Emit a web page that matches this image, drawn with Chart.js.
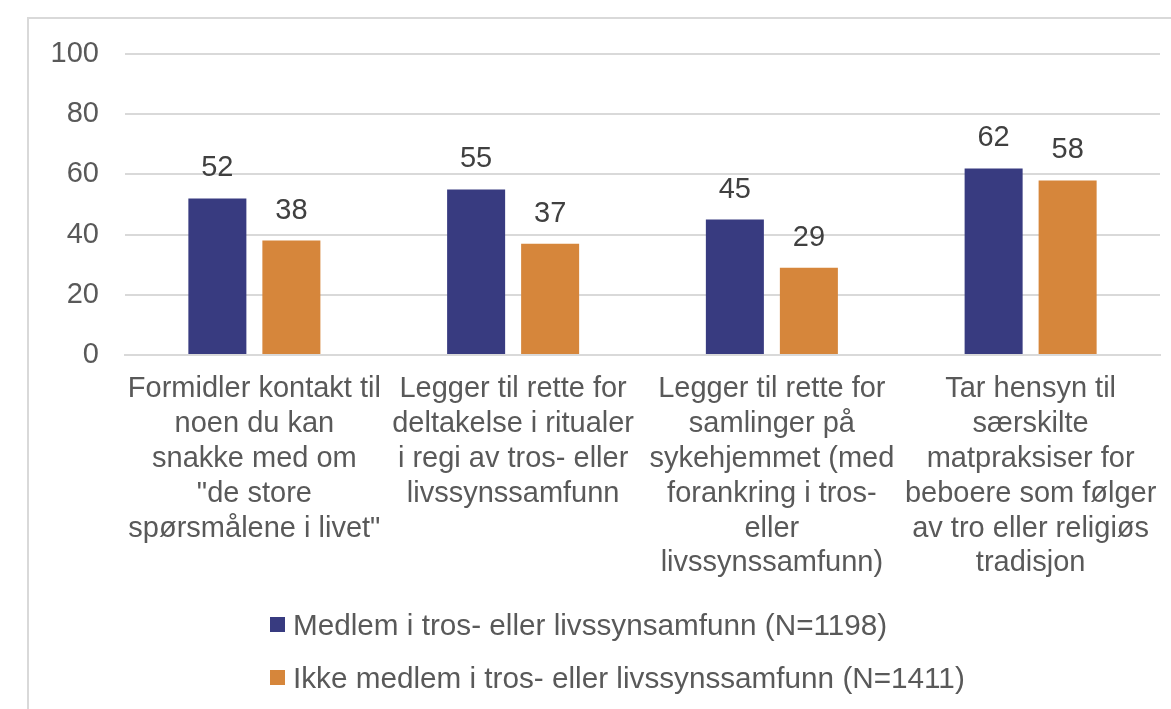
<!DOCTYPE html>
<html lang="no">
<head>
<meta charset="utf-8">
<title>Tilrettelegging for tro og livssyn</title>
<script src="https://cdn.jsdelivr.net/npm/chart.js@4.4.1/dist/chart.umd.min.js"></script>
<style>
  html, body { margin: 0; padding: 0; background: #fff; }
  #wrap { position: relative; width: 1171px; height: 709px; overflow: hidden; }
  #frame {
    position: absolute; left: 27px; top: 17px; width: 1200px; height: 800px;
    border-left: 2px solid #d9d9d9; border-top: 2px solid #d9d9d9;
  }
  #chart { position: absolute; left: 0; top: 0; }
  #legend {
    position: absolute; left: 270px; top: 598px;
    font-family: "Liberation Sans", Arial, sans-serif; font-size: 29.7px; color: #595959;
  }
  #legend .item { display: flex; align-items: center; height: 53px; white-space: nowrap; }
  #legend .box { width: 15px; height: 15px; margin-right: 8px; }
</style>
</head>
<body>
<div id="wrap">
  <div id="frame"></div>
  <canvas id="chart" width="1171" height="709"></canvas>
  <div id="legend"></div>
</div>
<script>
// categories, wrapped the way they appear under the axis
const categories = [
  ["Formidler kontakt til", "noen du kan", "snakke med om", "\"de store", "spørsmålene i livet\""],
  ["Legger til rette for", "deltakelse i ritualer", "i regi av tros- eller", "livssynssamfunn"],
  ["Legger til rette for", "samlinger på", "sykehjemmet (med", "forankring i tros-", "eller", "livssynssamfunn)"],
  ["Tar hensyn til", "særskilte", "matpraksiser for", "beboere som følger", "av tro eller religiøs", "tradisjon"]
];
const seriesNames = [
  "Medlem i tros- eller livssynsamfunn (N=1198)",
  "Ikke medlem i tros- eller livssynssamfunn (N=1411)"
];
const medlem = [52, 55, 45, 62];
const ikkeMedlem = [38, 37, 29, 58];
const yMin = 0;
const yMax = 100;
const yStep = 20;

const FONT = "'Liberation Sans', Arial, sans-serif";
const colors = ["#383b80", "#d6863b"];

// value labels above each bar
const valueLabels = {
  id: "valueLabels",
  afterDatasetsDraw(chart) {
    const ctx = chart.ctx;
    ctx.save();
    ctx.font = "29px " + FONT;
    ctx.fillStyle = "#404040";
    ctx.textAlign = "center";
    ctx.textBaseline = "alphabetic";
    chart.data.datasets.forEach((ds, i) => {
      chart.getDatasetMeta(i).data.forEach((bar, j) => {
        ctx.fillText(String(ds.data[j]), bar.x, bar.y - 22);
      });
    });
    ctx.restore();
  }
};

const chart = new Chart(document.getElementById("chart"), {
  type: "bar",
  data: {
    labels: categories,
    datasets: [
      { label: seriesNames[0], data: medlem, backgroundColor: colors[0] },
      { label: seriesNames[1], data: ikkeMedlem, backgroundColor: colors[1] }
    ]
  },
  options: {
    responsive: false,
    animation: false,
    layout: { padding: { top: 54, right: 11, left: 0, bottom: 0 } },
    datasets: { bar: { categoryPercentage: 0.572, barPercentage: 0.784 } },
    scales: {
      x: {
        grid: { display: false },
        border: { display: true, color: "#d9d9d9", width: 2 },
        ticks: {
          color: "#595959",
          font: { family: FONT, size: 29, lineHeight: 1.2 },
          padding: 9,
          maxRotation: 0,
          autoSkip: false
        },
        afterFit(scale) { scale.height = 354; }
      },
      y: {
        min: yMin,
        max: yMax,
        grid: { color: "#d9d9d9", lineWidth: 2, drawTicks: false },
        border: { display: false },
        ticks: {
          stepSize: yStep,
          color: "#595959",
          font: { family: FONT, size: 29 },
          padding: 26
        },
        afterFit(scale) { scale.width = 125; }
      }
    },
    plugins: {
      legend: { display: false },
      tooltip: { enabled: false }
    }
  },
  plugins: [valueLabels]
});

// stacked legend under the chart
const legend = document.getElementById("legend");
chart.data.datasets.forEach(ds => {
  const item = document.createElement("div");
  item.className = "item";
  item.innerHTML = `<span class="box" style="background:${ds.backgroundColor}"></span><span>${ds.label}</span>`;
  legend.appendChild(item);
});
</script>
</body>
</html>
